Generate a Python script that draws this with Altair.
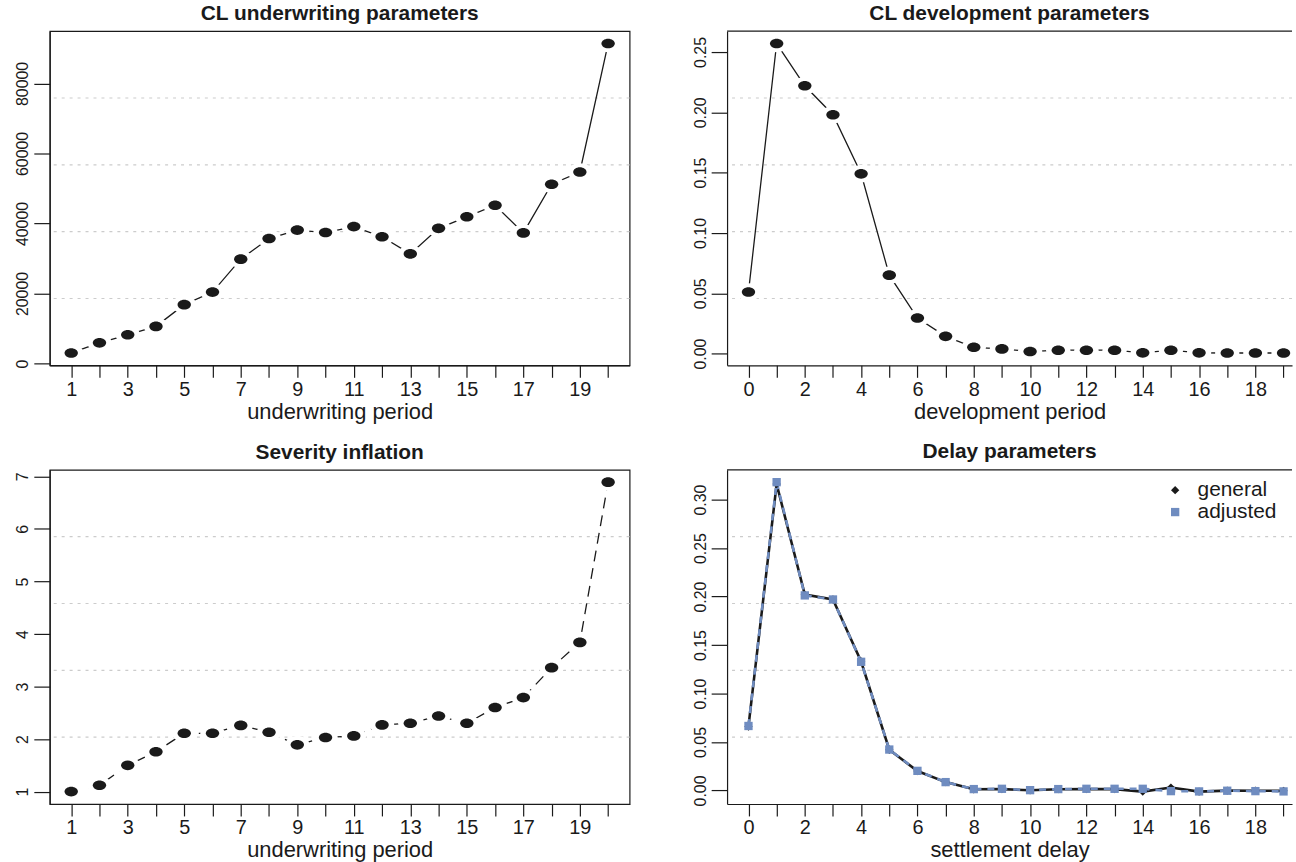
import altair as alt
import pandas as pd

# ---------------- data ----------------
uw_period = list(range(1, 21))
cl_uw = [3000, 5900, 8200, 10600, 16800, 20400, 29800, 35700, 38100, 37400,
         39100, 36200, 31300, 38600, 41900, 45200, 37300, 51200, 54700, 91400]

dev_period = list(range(0, 20))
cl_dev = [0.051, 0.257, 0.222, 0.198, 0.149, 0.065, 0.0295, 0.0143, 0.0052, 0.0039,
          0.0017, 0.0028, 0.0028, 0.0028, 0.0006, 0.0028, 0.0006, 0.0005, 0.0005, 0.0005]

sev_infl = [1.00, 1.12, 1.50, 1.76, 2.11, 2.11, 2.26, 2.13, 1.89, 2.03,
            2.06, 2.27, 2.30, 2.44, 2.30, 2.60, 2.79, 3.36, 3.84, 6.89]

delay = list(range(0, 20))
delay_general = [0.066, 0.316, 0.202, 0.197, 0.133, 0.042, 0.020, 0.0086, 0.0012, 0.0014,
                 0.0002, 0.0013, 0.0014, 0.0014, -0.0012, 0.0030, -0.0012, -0.0002, -0.0003, -0.0004]
delay_adjusted = [0.0665, 0.318, 0.2012, 0.197, 0.1327, 0.0422, 0.0202, 0.0086, 0.0014, 0.0017,
                  0.0003, 0.0014, 0.0017, 0.0017, 0.0017, -0.0007, -0.0010, -0.0003, -0.0007, -0.0010]

series_names = ["general", "adjusted"]

uw_ticks = [0, 20000, 40000, 60000, 80000]
dev_ticks = [0.00, 0.05, 0.10, 0.15, 0.20, 0.25]
sev_ticks = [1, 2, 3, 4, 5, 6, 7]
delay_ticks = [0.00, 0.05, 0.10, 0.15, 0.20, 0.25, 0.30]

# ---------------- style ----------------
FONT = "Liberation Sans"
INK = "#1a1a1a"
BLUE = "#6f8cc0"
GRID = "#cccccc"
ELLIPSE = "M-1,0A1,0.72,0,1,1,1,0A1,0.72,0,1,1,-1,0Z"
LW, RW, H = 583, 568, 336
TICK_FS, YTICK_FS, AXT_FS = 20, 16, 22


def rdom(vals):
    lo, hi = min(vals), max(vals)
    r = hi - lo
    return [lo - 0.04 * r, hi + 0.04 * r]


def xaxis(vals, odd, title):
    lab = ("datum.value % 2 == 1 ? datum.label : ''" if odd
           else "datum.value % 2 == 0 ? datum.label : ''")
    return alt.Axis(values=list(vals), labelExpr=lab, title=title, grid=False, tickSize=12,
                    labelPadding=2, titlePadding=2, labelFontSize=TICK_FS, titleFontSize=AXT_FS,
                    labelFlush=False, labelOverlap=False)


def yaxis(vals, fmt, extent):
    return alt.Axis(values=vals, format=fmt, title=None, grid=False, tickSize=16,
                    labelPadding=3, labelAngle=270, labelAlign="center", labelBaseline="bottom",
                    labelFontSize=YTICK_FS, minExtent=extent, maxExtent=extent, labelFlush=False)


def panel(xs, ys, title, xtitle, yticks, yfmt, odd, dash, width, clip_right, extent):
    xd = rdom(xs)
    if clip_right:
        xd = [xd[0], xd[0] + (xd[1] - xd[0]) * width / 581.0]
    yd = rdom(ys)
    df = pd.DataFrame({"x": xs, "y": ys})
    gdf = pd.DataFrame({"g": [yd[0] + k * (yd[1] - yd[0]) / 5 for k in range(1, 5)]})
    xax = xaxis(xs, odd, xtitle)
    yax = yaxis(yticks, yfmt, extent)
    xs_ = alt.Scale(domain=xd, nice=False, zero=False)
    ys_ = alt.Scale(domain=yd, nice=False, zero=False)
    X = alt.X("x:Q", scale=xs_, axis=xax)
    Y = alt.Y("y:Q", scale=ys_, axis=yax)
    grid = alt.Chart(gdf).mark_rule(color=GRID, strokeWidth=1.2, strokeDash=[3, 5]).encode(
        y=alt.Y("g:Q", scale=ys_, axis=yax))
    line_kw = dict(color=INK, strokeWidth=1.3)
    if dash:
        line_kw["strokeDash"] = [11, 7]
    base = alt.Chart(df).encode(x=X, y=Y)
    line = base.mark_line(**line_kw)
    halo = base.mark_point(shape=ELLIPSE, filled=True, color="white", opacity=1, size=600)
    pts = base.mark_point(shape=ELLIPSE, filled=True, color=INK, opacity=1, size=180)
    layers = [grid, line, halo, pts]
    if clip_right:
        top = alt.Chart(pd.DataFrame({"a": [0]})).mark_rule(color=INK, strokeWidth=1.2).encode(
            y=alt.value(0))
        layers.append(top)
    ch = alt.layer(*layers).properties(width=width, height=H, title=title)
    if clip_right:
        ch = ch.properties(view=alt.ViewConfig(stroke=None))
    return ch


p1 = panel(uw_period, cl_uw, "CL underwriting parameters", "underwriting period",
           uw_ticks, "d", True, False, LW, False, 49)
p2 = panel(dev_period, cl_dev, "CL development parameters", "development period",
           dev_ticks, ".2f", False, False, RW, True, 40)
p3 = panel(uw_period, sev_infl, "Severity inflation", "underwriting period",
           sev_ticks, "d", True, True, LW, False, 49)

# ---- delay panel ----
all_delay = delay_general + delay_adjusted
xd4 = rdom(delay)
xd4 = [xd4[0], xd4[0] + (xd4[1] - xd4[0]) * RW / 581.0]
yd4 = rdom(all_delay)
dfg = pd.DataFrame({"x": delay, "y": delay_general, "s": series_names[0]})
dfa = pd.DataFrame({"x": delay, "y": delay_adjusted, "s": series_names[1]})
dfall = pd.concat([dfg, dfa], ignore_index=True)
gdf4 = pd.DataFrame({"g": [yd4[0] + k * (yd4[1] - yd4[0]) / 5 for k in range(1, 5)]})
xs4 = alt.Scale(domain=xd4, nice=False, zero=False)
ys4 = alt.Scale(domain=yd4, nice=False, zero=False)
xax4 = xaxis(delay, False, "settlement delay")
yax4 = yaxis(delay_ticks, ".2f", 40)
X4 = alt.X("x:Q", scale=xs4, axis=xax4)
Y4 = alt.Y("y:Q", scale=ys4, axis=yax4)
grid4 = alt.Chart(gdf4).mark_rule(color=GRID, strokeWidth=1.2, strokeDash=[3, 5]).encode(
    y=alt.Y("g:Q", scale=ys4, axis=yax4))
lg = alt.Chart(dfg).mark_line(color=INK, strokeWidth=2.6).encode(x=X4, y=Y4)
la = alt.Chart(dfa).mark_line(color=BLUE, strokeWidth=2.6, strokeDash=[7, 6]).encode(x=X4, y=Y4)
leg = alt.Legend(title=None, orient="none", legendX=1121, legendY=451,
                 labelFontSize=21, labelOffset=12, symbolSize=70,
                 rowPadding=0, symbolStrokeWidth=0)
pts4 = alt.Chart(dfall).mark_point(filled=True, opacity=1, size=70).encode(
    x=X4, y=Y4,
    color=alt.Color("s:N", scale=alt.Scale(domain=series_names, range=[INK, BLUE]), legend=leg),
    shape=alt.Shape("s:N", scale=alt.Scale(domain=series_names, range=["diamond", "square"]),
                    legend=leg),
)
top4 = alt.Chart(pd.DataFrame({"a": [0]})).mark_rule(color=INK, strokeWidth=1.2).encode(
    y=alt.value(0))
p4 = alt.layer(grid4, lg, la, pts4, top4).properties(
    width=RW, height=H, title="Delay parameters", view=alt.ViewConfig(stroke=None))

row1 = alt.hconcat(p1, p2, spacing=56)
row2 = alt.hconcat(p3, p4, spacing=56)
chart = alt.vconcat(row1, row2, spacing=18).properties(
    padding={"left": 0, "top": 0, "right": 0, "bottom": 0}
).configure_view(stroke=INK, strokeWidth=1.2).configure_axis(
    labelFont=FONT, titleFont=FONT, labelColor=INK, titleColor=INK,
    domainColor=INK, tickColor=INK, domainWidth=1.2, tickWidth=1.2, titleFontWeight="normal"
).configure_title(
    font=FONT, fontSize=21, fontWeight="bold", color=INK, anchor="middle", frame="group", offset=7
).configure_legend(labelFont=FONT, labelColor=INK)

chart.save("out.html", embed_options={"renderer": "svg", "actions": False})
